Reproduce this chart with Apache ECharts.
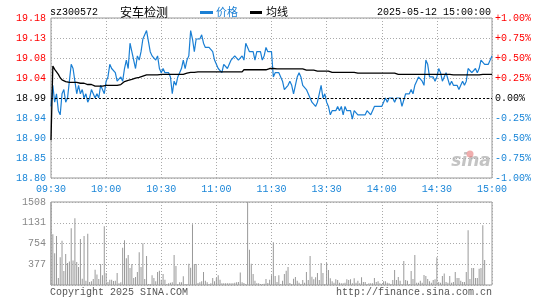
<!DOCTYPE html>
<html><head><meta charset="utf-8">
<script src="https://cdn.jsdelivr.net/npm/echarts/dist/echarts.min.js"></script>
<style>html,body{margin:0;padding:0;background:#fff}#c{width:545px;height:300px}</style>
</head><body><div id="c"></div>
<script>
const prevClose = 18.99;
const timeLabels = ['09:30','10:00','10:30','11:00','11:30','13:30','14:00','14:30','15:00'];
const priceTicks = ['18.80','18.85','18.90','18.94','18.99','19.04','19.08','19.13','19.18'];
const pctTicks = ['-1.00%','-0.75%','-0.50%','-0.25%','0.00%','+0.25%','+0.50%','+0.75%','+1.00%'];
const volTicks = ['', '377', '754', '1131', '1508'];

const prices = [
 18.97,19.02,18.98,19.00,18.96,18.95,19.00,19.01,18.98,18.99,
 19.03,19.07,19.06,19.03,19.00,19.02,19.00,19.01,18.99,19.00,
 18.98,18.99,19.01,19.00,18.99,19.00,18.99,19.02,19.02,19.00,
 19.03,19.04,19.07,19.06,19.06,19.05,19.03,19.03,19.04,19.03,
 19.06,19.08,19.06,19.12,19.12,19.08,19.06,19.09,19.08,19.10,
 19.13,19.14,19.15,19.15,19.10,19.09,19.09,19.08,19.09,19.06,
 19.05,19.06,19.05,19.05,19.05,19.04,19.00,19.03,19.02,19.04,
 19.05,19.06,19.08,19.06,19.08,19.09,19.15,19.13,19.10,19.13,
 19.13,19.13,19.14,19.12,19.11,19.11,19.11,19.11,19.10,19.08,
 19.08,19.06,19.06,19.05,19.07,19.07,19.06,19.07,19.08,19.08,
 19.09,19.09,19.08,19.08,19.09,19.08,19.12,19.11,19.10,19.10,
 19.10,19.08,19.10,19.10,19.10,19.08,19.09,19.11,19.10,19.10,
 19.10,
 19.04,19.05,19.05,19.05,19.04,19.03,19.01,19.01,19.02,19.03,
 19.02,19.00,19.00,19.04,19.05,19.04,19.02,19.02,19.01,19.01,
 18.99,18.98,18.98,18.97,18.98,19.00,19.02,18.99,19.00,18.98,
 18.97,18.95,18.96,18.96,18.96,18.97,18.96,18.97,18.95,18.97,
 18.96,18.96,18.96,18.94,18.96,18.96,18.95,18.95,18.95,18.95,
 18.95,18.96,18.96,18.95,18.96,18.97,18.97,18.97,18.97,18.97,
 18.98,18.99,18.98,18.99,18.99,18.99,18.98,18.99,18.99,18.99,
 18.97,18.97,19.00,19.00,19.00,19.01,19.00,19.02,19.03,19.04,
 19.04,19.03,19.02,19.08,19.07,19.04,19.04,19.04,19.03,19.04,
 19.06,19.05,19.03,19.04,19.05,19.05,19.02,19.03,19.02,19.02,
 19.02,19.01,19.02,19.03,19.02,19.03,19.06,19.06,19.05,19.05,
 19.06,19.05,19.06,19.08,19.08,19.07,19.07,19.07,19.07,19.09
];

const avgPrices = [
 18.89,19.066,19.058,19.052,19.046,19.038,19.033,19.031,19.029,
 19.027,19.027,19.027,19.027,19.027,19.027,
 19.025,19.025,19.025,19.025,
 19.022,19.022,19.022,19.022,
 19.018,19.018,19.018,19.018,19.018,19.018,
 19.020,19.020,19.020,19.020,19.020,19.020,19.020,19.020,
 19.022,19.022,
 19.026,19.029,19.030,19.032,19.033,19.034,19.036,19.037,19.038,19.039,19.041,19.042,19.043,
 19.045,19.045,19.045,19.045,19.045,19.045,19.045,
 19.046,19.046,19.046,19.046,19.046,19.046,19.046,19.046,19.046,19.046,19.046,19.046,19.046,19.046,
 19.049,19.049,19.049,
 19.051,19.051,19.051,
 19.052,19.052,19.052,19.052,19.052,19.052,19.052,19.052,19.052,19.052,19.052,19.052,19.052,
 19.052,19.052,19.052,19.052,19.052,19.052,19.052,19.052,19.052,19.052,19.052,19.052,19.052,
 19.057,19.057,19.057,19.057,19.057,19.057,19.057,19.057,19.057,19.057,19.057,19.057,19.057,19.057,
 19.060,19.060,19.060,
 19.059,19.059,19.059,19.059,19.059,19.059,19.059,19.059,19.059,19.059,19.059,19.059,19.059,19.059,19.059,19.059,
 19.056,19.056,19.056,19.056,19.056,19.056,
 19.054,19.054,19.054,19.054,19.054,19.054,19.054,19.054,
 19.051,19.051,19.051,19.051,19.051,19.051,19.051,19.051,19.051,19.051,19.051,19.051,19.051,19.051,
 19.049,19.049,19.049,19.049,19.049,19.049,19.049,19.049,19.049,19.049,19.049,19.049,
 19.049,19.049,19.049,19.049,19.049,19.049,19.049,19.049,19.049,19.049,19.049,
 19.046,19.046,19.046,19.046,19.046,19.046,19.046,19.046,19.046,19.046,
 19.046,19.046,19.046,19.046,19.046,19.046,19.046,19.046,19.046,19.046,
 19.046,19.046,19.046,19.046,19.046,19.046,19.046,19.046,19.046,19.046,
 19.045,19.045,19.045,19.045,19.045,19.045,19.045,19.045,19.045,19.045,19.045,19.045,19.045,19.045,19.045,
 19.046,19.046,19.046,19.046,19.046,19.046,19.046
];

const volumes = [
 1508,923,579,892,127,506,802,253,561,398,
 428,1031,446,1212,416,326,838,115,892,78,
 929,54,66,108,277,193,108,380,175,1067,
 217,54,96,96,72,78,217,30,48,675,
 814,488,543,307,380,127,145,235,597,326,
 760,108,525,18,18,175,127,66,235,259,
 96,199,96,18,30,42,48,543,344,18,
 48,48,157,18,18,386,314,1104,380,380,
 36,48,66,235,78,48,18,30,127,66,
 127,175,96,30,30,30,30,30,30,30,
 42,48,54,229,48,36,18,1508,639,386,
 199,78,30,30,18,18,24,108,36,96,
 175,
 778,163,54,175,18,78,199,259,326,36,
 18,115,145,78,42,18,90,42,235,90,
 525,151,103,139,217,90,398,217,18,398,
 271,121,66,42,103,90,42,30,30,42,
 103,90,103,30,121,42,78,30,139,54,
 54,18,30,30,30,127,54,66,30,18,
 66,66,42,30,18,90,271,90,145,78,
 12,434,90,78,18,253,108,543,42,42,
 78,42,181,163,108,66,42,90,103,506,
 54,42,163,211,54,42,163,42,54,235,
 127,127,78,54,54,235,995,108,307,307,
 127,127,295,307,1085,452,0,0,0,0
];

const BLUE = '#1a7fd4';
const LBLUE = '#1a86d8';
const RED = '#ff0000';
const MONO = '"Liberation Mono","DejaVu Sans Mono",monospace';
const CJK = '"Noto Sans CJK SC",sans-serif';

const toPct = p => (p / prevClose - 1) * 100;
const tickIdx = v => Math.round((parseFloat(v) + 1) / 0.25);
const sideColor = v => { const x = parseFloat(v); return x > 0.001 ? RED : (x < -0.001 ? LBLUE : '#000'); };

const dotted = { show: true, lineStyle: { color: '#aaa', type: [1, 2], width: 1 } };

const chart = echarts.init(document.getElementById('c'), null, { renderer: 'canvas' });
chart.setOption({
  animation: false,
  backgroundColor: '#fff',
  grid: [
    { left: 51, right: 53, top: 18, height: 160, show: true, borderColor: '#999', borderWidth: 1, backgroundColor: 'transparent', containLabel: false, outerBoundsMode: 'none' },
    { left: 51, right: 53, top: 202, height: 83, show: true, borderColor: '#999', borderWidth: 1, backgroundColor: 'transparent', containLabel: false, outerBoundsMode: 'none' }
  ],
  xAxis: [
    { type: 'value', gridIndex: 0, min: 0, max: 240, interval: 30,
      axisLine: { show: false }, axisTick: { show: false }, splitLine: dotted,
      axisLabel: { show: true, margin: 6, color: LBLUE, fontFamily: MONO, fontSize: 10, showMinLabel: true, showMaxLabel: true,
        formatter: v => timeLabels[Math.round(v / 30)] } },
    { type: 'value', gridIndex: 1, min: 0, max: 240, interval: 30,
      axisLine: { show: false }, axisTick: { show: false }, splitLine: dotted, axisLabel: { show: false } }
  ],
  yAxis: [
    { type: 'value', gridIndex: 0, min: -1, max: 1, interval: 0.25, position: 'left',
      axisLine: { show: false }, axisTick: { show: false }, splitLine: dotted,
      axisLabel: { margin: 5, fontFamily: MONO, fontSize: 10, color: sideColor, showMinLabel: true, showMaxLabel: true,
        formatter: v => priceTicks[tickIdx(v)] } },
    { type: 'value', gridIndex: 0, min: -1, max: 1, interval: 0.25, position: 'right',
      axisLine: { show: false }, axisTick: { show: false }, splitLine: { show: false },
      axisLabel: { margin: 3, fontFamily: MONO, fontSize: 10, color: sideColor, showMinLabel: true, showMaxLabel: true,
        formatter: v => pctTicks[tickIdx(v)] } },
    { type: 'value', gridIndex: 1, min: 0, max: 1508, interval: 377,
      axisLine: { show: false }, axisTick: { show: false }, splitLine: dotted,
      axisLabel: { margin: 5, fontFamily: MONO, fontSize: 10, color: '#888', showMinLabel: true, showMaxLabel: true,
        formatter: v => volTicks[Math.round(v / 377)] } }
  ],
  series: [
    { type: 'line', xAxisIndex: 0, yAxisIndex: 0, symbol: 'none', silent: true,
      data: prices.map((p, i) => [i, toPct(p)]),
      lineStyle: { color: BLUE, width: 1.2 }, itemStyle: { color: BLUE }, z: 3,
      markLine: { silent: true, symbol: 'none', label: { show: false },
        lineStyle: { color: '#000', type: [2, 2], width: 1 }, data: [{ yAxis: 0 }] } },
    { type: 'line', xAxisIndex: 0, yAxisIndex: 0, symbol: 'none', silent: true,
      data: avgPrices.map((p, i) => [i, toPct(p)]),
      lineStyle: { color: '#000', width: 1.3 }, itemStyle: { color: '#000' }, z: 4 },
    { type: 'bar', xAxisIndex: 1, yAxisIndex: 2, silent: true, barWidth: 1,
      data: volumes.map((v, i) => [i, v]),
      itemStyle: { color: '#999' } }
  ],
  graphic: [
    { type: 'text', style: { text: 'sz300572', x: 50, y: 12, font: '10px ' + MONO, fill: '#000', textAlign: 'left', textVerticalAlign: 'middle' } },
    { type: 'text', style: { text: '安车检测', x: 120, y: 12, font: '12px ' + CJK, fill: '#000', textAlign: 'left', textVerticalAlign: 'middle' } },
    { type: 'rect', shape: { x: 200, y: 11, width: 13, height: 3 }, style: { fill: BLUE } },
    { type: 'text', style: { text: '价格', x: 216, y: 12, font: '11px ' + CJK, fill: BLUE, textAlign: 'left', textVerticalAlign: 'middle' } },
    { type: 'rect', shape: { x: 250, y: 11, width: 12, height: 3 }, style: { fill: '#000' } },
    { type: 'text', style: { text: '均线', x: 266, y: 12, font: '11px ' + CJK, fill: '#000', textAlign: 'left', textVerticalAlign: 'middle' } },
    { type: 'text', style: { text: '2025-05-12 15:00:00', x: 491, y: 12, font: '10px ' + MONO, fill: '#000', textAlign: 'right', textVerticalAlign: 'middle' } },
    { type: 'text', style: { text: 'sina', x: 471, y: 162, font: 'italic bold 17px "DejaVu Sans",sans-serif', fill: '#c4c4c4', textAlign: 'center', textVerticalAlign: 'middle' } },
    { type: 'circle', shape: { cx: 470, cy: 154, r: 3.5 }, style: { fill: 'rgba(230,120,120,0.6)' } },
    { type: 'text', style: { text: 'Copyright 2025 SINA.COM', x: 50, y: 292, font: '10px ' + MONO, fill: '#555', textAlign: 'left', textVerticalAlign: 'middle' } },
    { type: 'text', style: { text: 'http://finance.sina.com.cn', x: 492, y: 292, font: '10px ' + MONO, fill: '#555', textAlign: 'right', textVerticalAlign: 'middle' } }
  ]
});
</script></body></html>
